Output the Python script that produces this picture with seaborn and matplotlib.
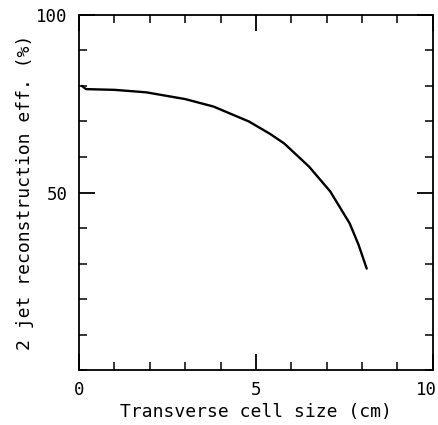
import numpy as np
import pandas as pd
import matplotlib
matplotlib.use("Agg")
import matplotlib.pyplot as plt
import matplotlib.transforms as mtransforms
import seaborn as sns
from matplotlib.ticker import MultipleLocator

# values
cell_size = [0.08, 0.2, 1.0, 1.9, 3.0, 3.8, 4.8, 5.4, 5.8, 6.5, 7.1, 7.65, 7.9, 8.13]
efficiency = [80.0, 79.1, 78.9, 78.2, 76.3, 74.2, 70.0, 66.5, 63.8, 57.3, 50.3, 41.3, 35.3, 28.6]

x_ticks = [0, 5, 10]
y_ticks = [50, 100]

sns.set_theme(style="ticks")
plt.rcParams['font.family'] = ['DejaVu Sans Mono', 'DejaVu Sans']
plt.rcParams['text.color'] = 'black'

df = pd.DataFrame({'size': cell_size, 'eff': efficiency})

fig = plt.figure(figsize=(4.39, 4.25), dpi=100)
ax = fig.add_axes([0.18, 0.129, 0.806, 0.836])
sns.lineplot(data=df, x='size', y='eff', color='black', linewidth=1.7,
             estimator=None, sort=False, ax=ax,
             solid_joinstyle='round', solid_capstyle='round')

ax.set_xlim(0, 10)
ax.set_ylim(0, 100)
ax.set_xticks(x_ticks)
ax.set_yticks(y_ticks)
ax.xaxis.set_minor_locator(MultipleLocator(1))
ax.yaxis.set_minor_locator(MultipleLocator(10))
ax.tick_params(which='major', direction='in', length=11.5, width=1.3,
               top=True, right=True, labelsize=12.5, colors='black', pad=8)
ax.tick_params(which='minor', direction='in', length=6, width=1.1,
               top=True, right=True, colors='black')
for s in ax.spines.values():
    s.set_linewidth(1.3)
    s.set_color('black')

# nudge the last x label inward so it stays on the canvas
last = ax.get_xticklabels()[-1]
last.set_transform(last.get_transform() + mtransforms.ScaledTranslation(-6 / 100, 0, fig.dpi_scale_trans))

ax.set_xlabel("Transverse cell size (cm)", fontsize=13, labelpad=3, color='black')
ax.set_ylabel("2 jet reconstruction eff. (%)", fontsize=13, labelpad=2, color='black')

fig.savefig("out.png", dpi=100)
